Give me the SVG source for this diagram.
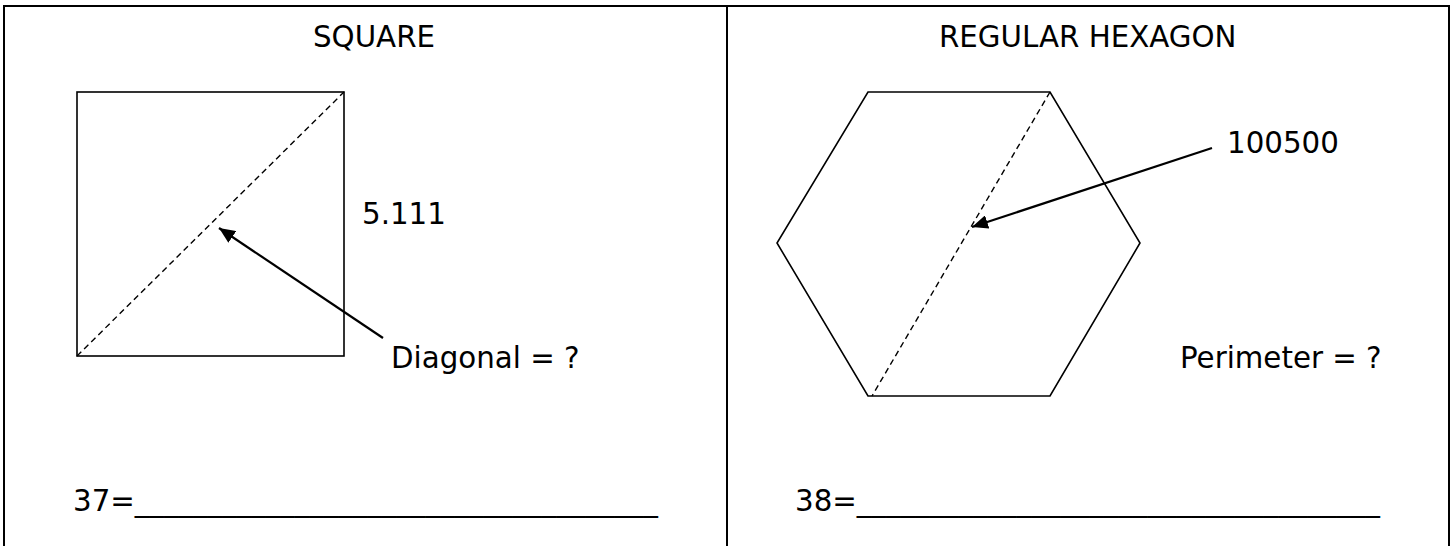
<svg xmlns="http://www.w3.org/2000/svg" width="1455" height="546" viewBox="0 0 1455 546">
<style>
text{font-family:"DejaVu Sans","Liberation Sans",sans-serif;font-size:29.3px;fill:#000}
.frame{stroke:#000;stroke-width:2;fill:none}
.shape{stroke:#000;stroke-width:1.6;fill:none}
.dash{stroke:#000;stroke-width:1.4;stroke-dasharray:6 4;fill:none}
.arrow{stroke:#000;stroke-width:2.2;fill:none;marker-end:url(#ah)}
</style>
<defs>
<marker id="ah" markerUnits="userSpaceOnUse" markerWidth="18" markerHeight="14" refX="16" refY="7" orient="auto">
<path d="M0,0 L16,7 L0,14 Z" fill="#000"/>
</marker>
</defs>
<rect width="1455" height="546" fill="#fff"/>
<g id="frame">
<path class="frame" d="M4,560 V6 H1449 V560 M727,6 V560"/>
</g>
<g id="square-panel">
<text x="313" y="47">SQUARE</text>
<rect class="shape" x="77" y="92" width="267" height="264"/>
<line class="dash" x1="77" y1="356" x2="344" y2="92"/>
<text x="362" y="224">5.111</text>
<text x="391" y="368">Diagonal = ?</text>
<text x="73" y="511">37=<tspan letter-spacing="-0.12">____________________________________</tspan></text>
</g>
<g id="hexagon-panel">
<text x="939" y="47">REGULAR HEXAGON</text>
<polygon class="shape" points="868,92 1050,92 1140,243 1050,396 868,396 777,243"/>
<line class="dash" x1="1050" y1="92" x2="872" y2="396"/>
<text x="1227" y="153">100500</text>
<text x="1180" y="368">Perimeter = ?</text>
<text x="795" y="511">38=<tspan letter-spacing="-0.12">____________________________________</tspan></text>
</g>
<g id="connectors">
<line class="arrow" x1="383" y1="338" x2="219" y2="228"/>
<line class="arrow" x1="1212" y1="148" x2="972" y2="227"/>
</g>
</svg>
